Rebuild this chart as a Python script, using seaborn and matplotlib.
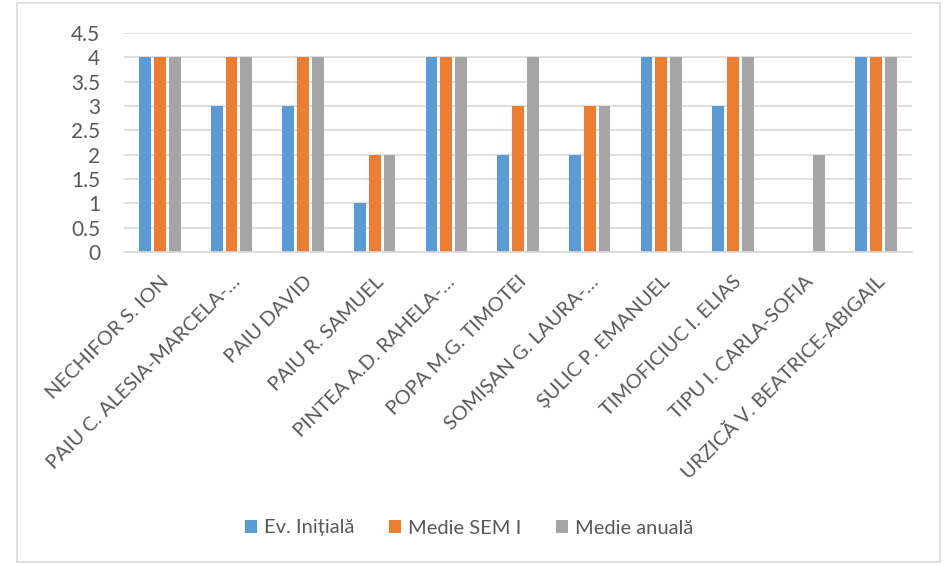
import pandas as pd
import numpy as np
import matplotlib.pyplot as plt
import seaborn as sns
from matplotlib.patches import Rectangle

elevi = ['NECHIFOR S. ION', 'PAIU C. ALESIA-MARCELA-…', 'PAIU DAVID', 'PAIU R. SAMUEL',
         'PINTEA A.D. RAHELA-…', 'POPA M.G. TIMOTEI', 'SOMIȘAN G. LAURA-…',
         'ȘULIC P. EMANUEL', 'TIMOFICIUC I. ELIAS', 'TIPU I. CARLA-SOFIA',
         'URZICĂ V. BEATRICE-ABIGAIL']
ev_initiala = [4, 3, 3, 1, 4, 2, 2, 4, 3, np.nan, 4]
medie_sem1 = [4, 4, 4, 2, 4, 3, 3, 4, 4, np.nan, 4]
medie_anuala = [4, 4, 4, 2, 4, 4, 3, 4, 4, 2, 4]
serii = ['Ev. Inițială', 'Medie SEM I', 'Medie anuală']
culori = ['#5B9BD5', '#ED7D31', '#A5A5A5']

df = pd.DataFrame({'elev': elevi, serii[0]: ev_initiala, serii[1]: medie_sem1, serii[2]: medie_anuala})
df = df.melt(id_vars='elev', var_name='serie', value_name='nota')

sns.set_style('white')
plt.rcParams['font.family'] = ['Lato', 'DejaVu Sans']
text_col = '#595959'

fig = plt.figure(figsize=(9.44, 5.65), dpi=100)
ax = fig.add_axes([124/944, 1 - 252/565, (912-124)/944, (252-33)/565])

sns.barplot(data=df, x='elev', y='nota', hue='serie', palette=culori, width=0.62, gap=0.2,
            ax=ax, saturation=1, order=elevi, hue_order=serii, linewidth=0, edgecolor='none')

ax.set_ylim(0, 4.5)
ax.set_yticks(np.arange(0, 4.51, 0.5))
ax.set_yticklabels(['0', '0.5', '1', '1.5', '2', '2.5', '3', '3.5', '4', '4.5'])
ax.yaxis.grid(True, color='#D9D9D9', linewidth=1.2)
ax.set_axisbelow(True)
for s in ['top', 'right', 'left']:
    ax.spines[s].set_visible(False)
ax.spines['bottom'].set_color('#D9D9D9')
ax.spines['bottom'].set_linewidth(1.2)
ax.set_xlabel('')
ax.set_ylabel('')
ax.tick_params(axis='y', length=0, labelsize=15, labelcolor=text_col, pad=17)
ax.tick_params(axis='x', length=0, labelsize=14.5, labelcolor=text_col, pad=15)
plt.setp(ax.get_xticklabels(), rotation=45, ha='right', rotation_mode='anchor')

handles, labels = ax.get_legend_handles_labels()
ax.legend_.remove()
fig.legend(handles, labels, loc='center', bbox_to_anchor=(0.497, 1 - 528/565), ncol=3,
           frameon=False, fontsize=14.5, labelcolor=text_col, handlelength=0.6, handleheight=0.6,
           handletextpad=0.35, columnspacing=1.7)

fig.patches.append(Rectangle((17/944, 3/565), (940-17)/944, (562-3)/565, transform=fig.transFigure,
                             fill=False, edgecolor='#D9D9D9', linewidth=1.2))

fig.savefig('out.png', dpi=100)
